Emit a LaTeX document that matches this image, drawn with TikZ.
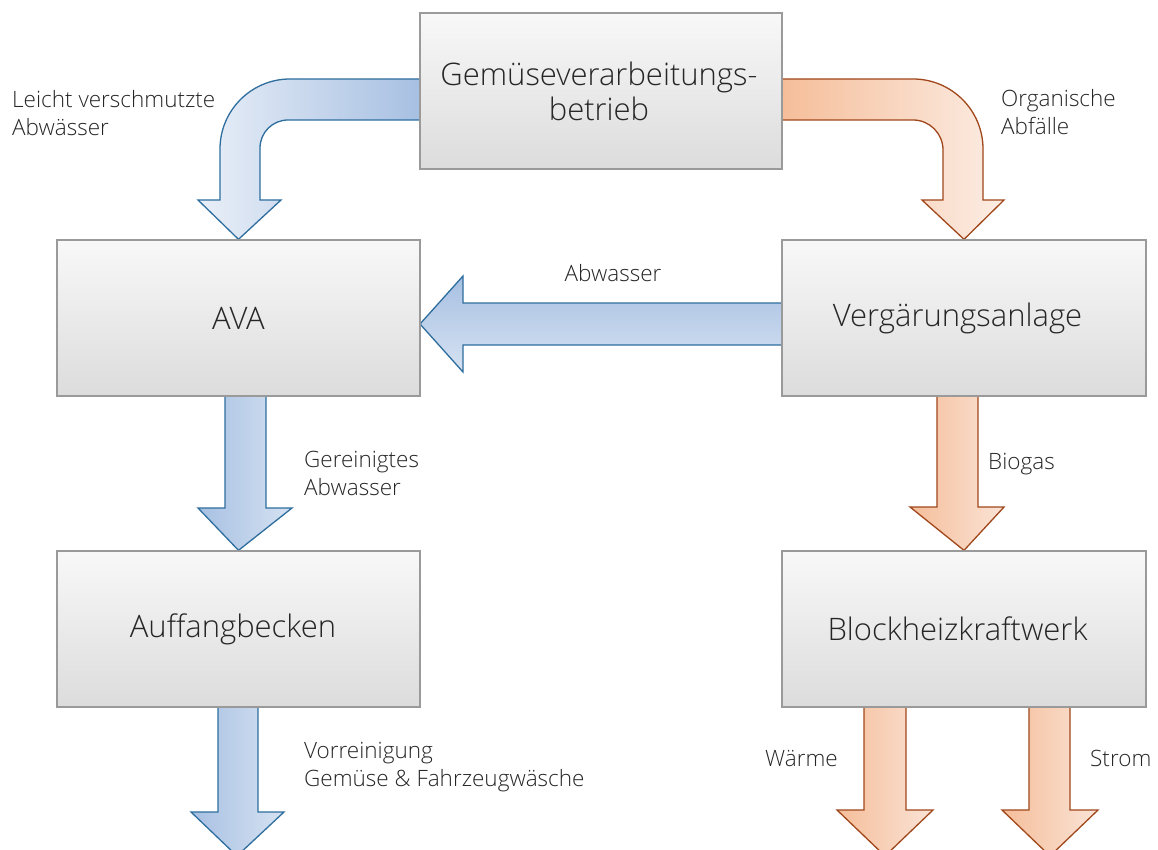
\documentclass[tikz,border=0pt]{standalone}
\usepackage{fontspec}
\setmainfont{Open Sans}[UprightFont=* Light]
\usetikzlibrary{backgrounds}
\definecolor{bstroke}{HTML}{2E6E9E}
\definecolor{bdark}{HTML}{A7C0E2}
\definecolor{blight}{HTML}{E9EFF8}
\definecolor{bmid}{HTML}{D6E2F2}
\definecolor{ostroke}{HTML}{A0471B}
\definecolor{odark}{HTML}{F5BE9A}
\definecolor{olight}{HTML}{FCEDE4}
\definecolor{omid}{HTML}{FAE3D6}
\definecolor{boxline}{HTML}{9A9A9A}
\definecolor{boxtop}{HTML}{F8F8F8}
\definecolor{boxbot}{HTML}{DCDCDC}
\definecolor{txt}{HTML}{262626}
\begin{document}
\begin{tikzpicture}[x=1pt,y=-1pt,
  box/.style={draw=boxline, line width=1.3pt, top color=boxtop, bottom color=boxbot,
    minimum height=156pt, align=center, text=txt,
    font=\fontsize{31}{35}\selectfont, inner sep=0pt},
  lbl/.style={text=txt, align=left, anchor=west, inner sep=0pt,
    font=\fontsize{22.5}{28}\selectfont},
  barrow/.style={draw=bstroke, line width=1.3pt, line join=miter},
  oarrow/.style={draw=ostroke, line width=1.3pt, line join=miter}]
\useasboundingbox (0,0) rectangle (1158,850);

% boxes
\node[box, minimum width=362pt] (gem) at (601,91) {Gemüseverarbeitungs-\hspace*{4pt}\\betrieb\hspace*{4pt}};
\node[box, minimum width=363pt] (ava) at (238.5,318) {AVA};
\node[box, minimum width=364pt] (verg) at (964,318) {Vergärungsanlage\hspace*{13pt}};
\node[box, minimum width=363pt] (auff) at (238.5,629) {Auffangbecken\hspace*{11pt}};
\node[box, minimum width=364pt] (bhkw) at (964,629) {Blockheizkraftwerk\hspace*{13pt}};

\coordinate (avain) at (420,324);
\coordinate (outL) at (237,856);
\coordinate (outW) at (885,856);
\coordinate (outS) at (1050,856);

\begin{scope}[on background layer]
\fill[white] (0,0) rectangle (1158,850);
% curved blue arrow
\path[barrow, left color=blight, right color=bdark]
  (420,79) [rounded corners=70pt] -- (220,79) [sharp corners] -- (220,200)
  -- (198,200) -- (ava.north) -- (281,200) -- (260,200)
  [rounded corners=28pt] -- (260,120) [sharp corners] -- (420,120) -- cycle;
% curved orange arrow
\path[oarrow, left color=odark, right color=olight]
  (782,79) [rounded corners=70pt] -- (983,79) [sharp corners] -- (983,200)
  -- (1004,200) -- (verg.north) -- (922,200) -- (943,200)
  [rounded corners=30pt] -- (943,120) [sharp corners] -- (782,120) -- cycle;
% Abwasser
\path[barrow, top color=bdark, bottom color=bmid]
  (782,303) -- (463,303) -- (463,276) -- (avain) -- (463,372) -- (463,345) -- (782,345) -- cycle;
% AVA -> Auffang
\path[barrow, left color=bdark, right color=bmid]
  (225,396) -- (225,508) -- (198,508) -- (auff.north) -- (292,508) -- (266,508) -- (266,396) -- cycle;
% Auffang -> out
\path[barrow, left color=bdark, right color=bmid]
  (218,707) -- (218,812) -- (191,812) -- (outL) -- (284,812) -- (258,812) -- (258,707) -- cycle;
% Biogas
\path[oarrow, left color=odark, right color=omid]
  (937,396) -- (937,507) -- (910,507) -- (bhkw.north) -- (1004,507) -- (978,507) -- (978,396) -- cycle;
% Waerme
\path[oarrow, left color=odark, right color=omid]
  (864,707) -- (864,810) -- (837,810) -- (outW) -- (933,810) -- (906,810) -- (906,707) -- cycle;
% Strom
\path[oarrow, left color=odark, right color=omid]
  (1029,707) -- (1029,810) -- (1002,810) -- (outS) -- (1098,810) -- (1070,810) -- (1070,707) -- cycle;
\end{scope}

% labels
\node[lbl] (l1) at (12,113.5) {Leicht verschmutzte\\Abwässer};
\node[lbl] (l2) at (1001,112) {Organische\\Abfälle};
\node[lbl, anchor=center] (l3) at (613,273) {Abwasser};
\node[lbl] (l4) at (304,473) {Gereinigtes\\Abwasser};
\node[lbl] (l5) at (988,464) {Biogas};
\node[lbl] (l6) at (304,767) {Vorreinigung\\Gemüse \& Fahrzeugwäsche};
\node[lbl] (l7) at (765,758) {Wärme};
\node[lbl] (l8) at (1090,758) {Strom};
\end{tikzpicture}
\end{document}
